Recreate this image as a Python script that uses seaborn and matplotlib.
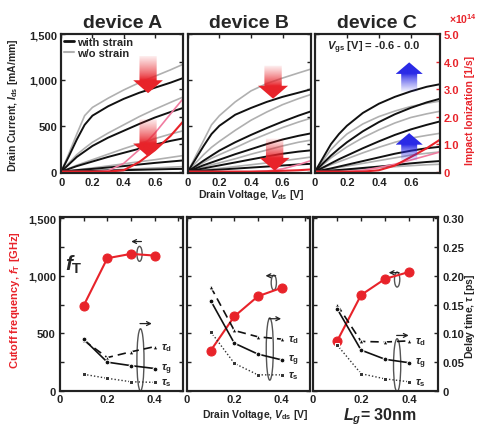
import numpy as np
import pandas as pd
import matplotlib
matplotlib.use('Agg')
import matplotlib.pyplot as plt
import seaborn as sns
from matplotlib.patches import FancyArrow, Ellipse
from matplotlib.ticker import FixedLocator, FixedFormatter

# ---- top row: drain current (mA/mm) vs drain voltage ----
vds_top = [0, 0.05, 0.1, 0.15, 0.2, 0.3, 0.4, 0.5, 0.6, 0.7, 0.78]

A_with = [[0, 170, 350, 510, 610, 712, 793, 860, 915, 970, 1020],
          [0, 80, 160, 220, 280, 370, 445, 520, 590, 650, 694],
          [0, 30, 60, 85, 110, 160, 205, 250, 295, 335, 362],
          [0, 8, 16, 23, 30, 45, 60, 78, 95, 110, 122],
          [0, 2, 4, 6, 8, 12, 16, 20, 24, 28, 30]]
A_wo = [[0, 200, 410, 610, 700, 800, 890, 970, 1040, 1110, 1170],
        [0, 95, 185, 255, 320, 420, 510, 600, 680, 755, 813],
        [0, 35, 70, 100, 130, 190, 250, 305, 360, 410, 445],
        [0, 10, 20, 30, 40, 62, 85, 108, 130, 155, 175],
        [0, 3, 6, 9, 12, 18, 25, 32, 40, 48, 55]]
B_with = [[0, 140, 280, 410, 500, 620, 694, 760, 815, 860, 897],
          [0, 60, 120, 175, 230, 320, 400, 475, 545, 610, 657],
          [0, 35, 70, 100, 130, 190, 245, 300, 350, 390, 417],
          [0, 18, 35, 52, 68, 100, 133, 165, 195, 218, 232],
          [0, 6, 12, 17, 22, 33, 44, 55, 67, 78, 85]]
B_wo = [[0, 170, 340, 510, 610, 760, 880, 960, 1020, 1075, 1118],
        [0, 95, 185, 265, 330, 450, 560, 650, 730, 795, 841],
        [0, 50, 100, 145, 185, 260, 340, 410, 480, 540, 583],
        [0, 25, 50, 75, 95, 140, 190, 235, 280, 320, 343],
        [0, 10, 20, 28, 36, 55, 75, 95, 118, 140, 159]]
C_with = [[0, 150, 300, 410, 500, 640, 740, 815, 875, 925, 952],
          [0, 90, 175, 250, 320, 440, 540, 625, 695, 755, 793],
          [0, 45, 90, 135, 175, 255, 330, 400, 460, 510, 546],
          [0, 18, 35, 55, 75, 115, 155, 195, 228, 255, 270],
          [0, 6, 12, 18, 25, 40, 55, 72, 90, 105, 115]]
C_wo = [[0, 120, 240, 330, 410, 520, 600, 660, 710, 745, 768],
        [0, 75, 150, 210, 270, 370, 455, 530, 590, 630, 657],
        [0, 38, 75, 108, 140, 205, 265, 320, 365, 395, 417],
        [0, 15, 30, 45, 60, 90, 120, 150, 180, 200, 214],
        [0, 5, 10, 15, 20, 30, 42, 54, 65, 75, 80]]

# impact ionization (x1e14 1/s)
A_ii_red = [0, 0, 0, 0, 0, 0, 0.05, 0.35, 0.78, 1.3, 1.82]
A_ii_pink = [0, 0, 0, 0, 0, 0.03, 0.3, 0.8, 1.4, 2.1, 2.65]
B_ii_red = [0, 0, 0, 0, 0, 0, 0, 0.01, 0.03, 0.05, 0.08]
B_ii_pink = [0, 0, 0, 0, 0, 0, 0, 0.02, 0.1, 0.25, 0.4]
C_ii_red = [0, 0, 0, 0, 0, 0, 0.05, 0.22, 0.53, 0.85, 1.15]
C_ii_pink = [0, 0, 0, 0, 0, 0.05, 0.15, 0.27, 0.42, 0.58, 0.71]

# ---- bottom row: fT (GHz) and delay times (ps) ----
vds_bot = [0.1, 0.2, 0.3, 0.4]
fT_A = [741, 1152, 1190, 1175]
fT_B = [350, 647, 822, 895]
fT_C = [432, 833, 973, 1033]
tau_d_A = [0.088, 0.058, 0.068, 0.077]
tau_g_A = [0.090, 0.050, 0.044, 0.039]
tau_s_A = [0.029, 0.022, 0.016, 0.015]
tau_d_B = [0.181, 0.105, 0.094, 0.090]
tau_g_B = [0.157, 0.083, 0.064, 0.054]
tau_s_B = [0.103, 0.048, 0.028, 0.028]
tau_d_C = [0.150, 0.086, 0.085, 0.087]
tau_g_C = [0.143, 0.071, 0.055, 0.049]
tau_s_C = [0.080, 0.030, 0.021, 0.016]

RED = '#e8232a'
PINK = '#f07ca0'
GREY = '#b0b0b0'
BLUE = '#2a2ae6'

sns.set_theme(style='white')
plt.rcParams['font.family'] = ['Liberation Sans', 'DejaVu Sans']
plt.rcParams['font.weight'] = 'bold'
plt.rcParams['axes.labelweight'] = 'bold'
plt.rcParams['mathtext.fontset'] = 'custom'
plt.rcParams['mathtext.rm'] = 'Liberation Sans:bold'
plt.rcParams['mathtext.it'] = 'Liberation Sans:italic:bold'
plt.rcParams['mathtext.bf'] = 'Liberation Sans:bold'

fig = plt.figure(figsize=(4.78, 4.27), dpi=100)

top_pos = [[0.128, 0.5925, 0.255, 0.3255],
           [0.393, 0.5925, 0.2575, 0.3255],
           [0.659, 0.5925, 0.2605, 0.3255]]
bot_pos = [[0.1255, 0.082, 0.2575, 0.4075],
           [0.3912, 0.082, 0.2573, 0.4075],
           [0.6548, 0.082, 0.2615, 0.4075]]


def style_axes(ax):
    for s in ax.spines.values():
        s.set_linewidth(1.5)
        s.set_color('#222222')
    ax.tick_params(direction='in', length=3, width=1, labelsize=8,
                   top=True, right=False, pad=3, colors='#222222')


def grad_arrow(ax, x, y_tail, y_tip, width, head_w, head_l, color):
    arrow = FancyArrow(x, y_tail, 0, y_tip - y_tail, width=width,
                       head_width=head_w, head_length=head_l,
                       length_includes_head=True, fc='none', ec='none')
    ax.add_patch(arrow)
    n = 120
    length = abs(y_tip - y_tail)
    head_frac = head_l / length
    f = np.linspace(0, 1, n)  # 0 at tip, 1 at tail
    alpha = np.where(f < head_frac, 1.0,
                     1.0 - 0.95 * ((f - head_frac) / (1 - head_frac)) ** 0.8)
    if y_tip > y_tail:
        alpha = alpha[::-1]
    rgb = matplotlib.colors.to_rgb(color)
    img = np.zeros((n, 1, 4))
    img[:, 0, :3] = rgb
    img[:, 0, 3] = alpha
    im = ax.imshow(img, extent=[x - head_w / 2, x + head_w / 2,
                                min(y_tail, y_tip), max(y_tail, y_tip)],
                   origin='lower', aspect='auto', zorder=5, interpolation='bilinear')
    im.set_clip_path(arrow)


# ---------------- top row ----------------
top_sets = [(A_with, A_wo, A_ii_red, A_ii_pink),
            (B_with, B_wo, B_ii_red, B_ii_pink),
            (C_with, C_wo, C_ii_red, C_ii_pink)]
titles = ['device A', 'device B', 'device C']
top_axes = []
for i, (w, wo, iir, iip) in enumerate(top_sets):
    ax = fig.add_axes(top_pos[i])
    axr = ax.twinx()
    for curve in wo:
        sns.lineplot(x=vds_top, y=curve, ax=ax, color=GREY, lw=1.2, legend=False)
    for curve in w:
        sns.lineplot(x=vds_top, y=curve, ax=ax, color='#111111', lw=1.4, legend=False)
    sns.lineplot(x=vds_top, y=iip, ax=axr, color=PINK, lw=1.2, legend=False)
    sns.lineplot(x=vds_top, y=iir, ax=axr, color=RED, lw=1.5, legend=False)
    style_axes(ax)
    ax.set_xlim(0, 0.78)
    ax.set_ylim(-15, 1500)
    axr.set_ylim(-0.05, 5.0)
    axr.set_xlim(0, 0.78)
    ax.set_xticks([0, 0.2, 0.4, 0.6])
    ax.set_xticklabels(['0', '0.2', '0.4', '0.6'])
    ax.set_yticks([0, 500, 1000, 1500])
    if i == 0:
        ax.set_yticklabels(['0', '500', '1,000', '1,500'])
    else:
        ax.set_yticklabels([])
    axr.set_yticks([0, 1, 2, 3, 4, 5])
    axr.tick_params(direction='in', length=3, width=1, labelsize=8, pad=3,
                    colors=RED if i == 2 else '#222222')
    if i == 2:
        axr.set_yticklabels(['0', '1.0', '2.0', '3.0', '4.0', '5.0'])
    else:
        axr.set_yticklabels([])
    for s in axr.spines.values():
        s.set_linewidth(1.5)
        s.set_color('#222222')
    ax.set_xlabel('')
    ax.set_ylabel('')
    axr.set_ylabel('')
    ax.set_title(titles[i], fontsize=14, fontweight='bold', pad=5)
    top_axes.append((ax, axr))

axA, _ = top_axes[0]
axA.plot([], [], color='#111111', lw=2, label='with strain')
axA.plot([], [], color=GREY, lw=1.5, label='w/o strain')
axA.legend(loc='upper left', frameon=False, fontsize=8, handlelength=0.9,
           handletextpad=0.3, borderaxespad=0.15, labelspacing=0.1,
           borderpad=0.1)

grad_arrow(top_axes[0][1], 0.556, 4.2, 2.85, 0.11, 0.19, 0.47, RED)
grad_arrow(top_axes[0][1], 0.556, 1.9, 0.55, 0.11, 0.19, 0.47, RED)
grad_arrow(top_axes[1][1], 0.54, 3.85, 2.65, 0.11, 0.19, 0.47, RED)
grad_arrow(top_axes[1][1], 0.55, 1.2, 0.03, 0.11, 0.19, 0.47, RED)
grad_arrow(top_axes[2][1], 0.59, 2.9, 3.97, 0.10, 0.17, 0.42, BLUE)
grad_arrow(top_axes[2][1], 0.59, 0.4, 1.4, 0.10, 0.17, 0.42, BLUE)
for ax, axr in top_axes:
    axr.set_xlim(0, 0.78)
    axr.set_ylim(-0.05, 5.0)

top_axes[2][0].text(0.37, 1360, r'$V_\mathrm{gs}$ [V] = -0.6 - 0.0', ha='center',
                    va='center', fontsize=8, fontweight='bold')

fig.text(0.028, 0.754, r'Drain Current, $I_\mathrm{ds}$ [mA/mm]', rotation=90,
         ha='center', va='center', fontsize=7.5, fontweight='bold')
fig.text(0.984, 0.742, 'Impact Ionization [1/s]', rotation=90, ha='center',
         va='center', fontsize=7.5, fontweight='bold', color=RED)
fig.text(0.997, 0.955, r'$\times$10$^{14}$', ha='right', va='center',
         fontsize=7.5, color=RED)
fig.text(0.525, 0.543, r'Drain Voltage, $V_\mathrm{ds}$ [V]', ha='center',
         va='center', fontsize=7.5, fontweight='bold')

# ---------------- bottom row ----------------
bot_sets = [(fT_A, tau_d_A, tau_g_A, tau_s_A),
            (fT_B, tau_d_B, tau_g_B, tau_s_B),
            (fT_C, tau_d_C, tau_g_C, tau_s_C)]
loops = [  # small loop (x, y), arrow y ; tall loop (x, y, h), arrow y
    ((0.336, 1190, 1297), (0.34, 270, 540, 585)),
    ((0.367, 940, 1000), (0.35, 364, 540, 627)),
    ((0.35, 967, 1027), (0.35, 223, 461, 482)),
]
for i, (fT, td, tg, ts) in enumerate(bot_sets):
    ax = fig.add_axes(bot_pos[i])
    axr = ax.twinx()
    sns.lineplot(x=vds_bot, y=fT, ax=ax, color=RED, lw=1.5, marker='o',
                 markersize=6.5, markeredgecolor=RED, legend=False, zorder=4)
    sns.lineplot(x=vds_bot, y=td, ax=axr, color='#111111', lw=1.2, marker='^',
                 markersize=3.5, legend=False)
    axr.lines[-1].set_linestyle((0, (5, 3)))
    sns.lineplot(x=vds_bot, y=tg, ax=axr, color='#111111', lw=1.2, marker='o',
                 markersize=3.5, legend=False)
    sns.lineplot(x=vds_bot, y=ts, ax=axr, color='#333333', lw=1.0, marker='s',
                 markersize=3.2, legend=False)
    axr.lines[-1].set_linestyle((0, (1, 1.5)))
    style_axes(ax)
    ax.tick_params(axis='x', pad=2)
    ax.set_xlim(0, 0.52)
    ax.set_ylim(0, 1510)
    axr.set_ylim(0, 0.302)
    ax.xaxis.set_major_locator(FixedLocator([0, 0.1, 0.2, 0.3, 0.4, 0.5]))
    ax.xaxis.set_major_formatter(FixedFormatter(['0', '', '0.2', '', '0.4', '']))
    ax.yaxis.set_major_locator(FixedLocator([0, 250, 500, 750, 1000, 1250, 1500]))
    if i == 0:
        ax.yaxis.set_major_formatter(FixedFormatter(['0', '', '500', '', '1,000', '', '1,500']))
    else:
        ax.set_yticklabels([])
    axr.set_yticks([0, 0.05, 0.10, 0.15, 0.20, 0.25, 0.30])
    axr.tick_params(direction='in', length=3, width=1, labelsize=8, pad=3,
                    colors='#222222')
    if i == 2:
        axr.set_yticklabels(['0', '0.05', '0.10', '0.15', '0.20', '0.25', '0.30'])
    else:
        axr.set_yticklabels([])
    for s in axr.spines.values():
        s.set_linewidth(1.5)
        s.set_color('#222222')
    ax.set_xlabel('')
    ax.set_ylabel('')
    axr.set_ylabel('')

    # tau labels
    for name, vals in (('d', td), ('g', tg), ('s', ts)):
        axr.text(0.425, vals[-1], r'$\tau_\mathrm{%s}$' % name, ha='left',
                 va='center', fontsize=8)

    # rotation loops with arrows
    (sx, sy, say), (tx, ty, th, tay) = loops[i]
    arrow_kw = dict(arrowstyle='->', lw=0.9, color='#222222', shrinkA=0,
                    shrinkB=0, mutation_scale=7)
    ax.add_patch(Ellipse((sx, sy), 0.022, 130, fc='none', ec='#555555', lw=1))
    ax.annotate('', xy=(sx - 0.035, say), xytext=(sx + 0.008, say),
                arrowprops=arrow_kw)
    ax.add_patch(Ellipse((tx, ty), 0.03, th, fc='none', ec='#555555', lw=1))
    ax.annotate('', xy=(tx + 0.048, tay), xytext=(tx - 0.002, tay),
                arrowprops=arrow_kw)
    if i == 0:
        ax.text(0.06, 1100, r'$f_\mathrm{T}$', ha='center', va='center', fontsize=15)

fig.text(0.031, 0.297, r'Cutoff frequency, $f_\mathrm{T}$ [GHz]', rotation=90,
         ha='center', va='center', fontsize=8, fontweight='bold', color=RED)
fig.text(0.983, 0.258, r'Delay time, $\tau$ [ps]', rotation=90, ha='center',
         va='center', fontsize=7.5, fontweight='bold')
fig.text(0.533, 0.028, r'Drain Voltage, $V_\mathrm{ds}$ [V]', ha='center',
         va='center', fontsize=7.5, fontweight='bold')
fig.text(0.795, 0.016, r'$L_g$= 30nm', ha='center', va='baseline', fontsize=11.5,
         fontweight='bold')

fig.savefig('out.png', dpi=100)
